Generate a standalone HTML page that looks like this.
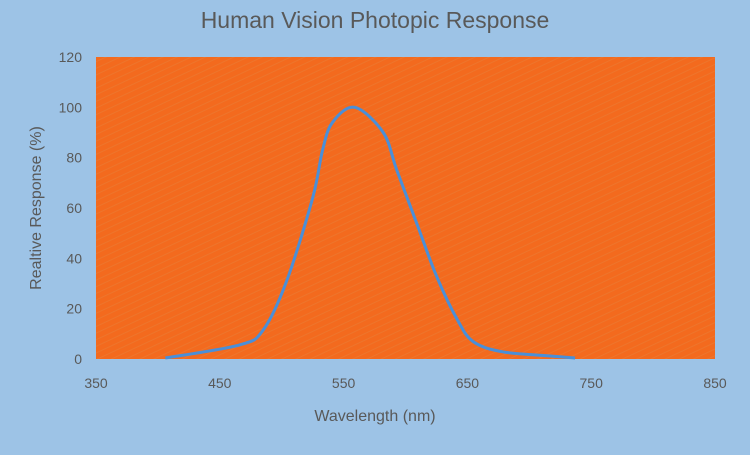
<!DOCTYPE html>
<html><head><meta charset="utf-8"><style>
body{margin:0;width:750px;height:450px;overflow:hidden;background:#9dc3e6;font-family:"Liberation Sans",sans-serif}
</style></head><body>
<svg width="750" height="450" xmlns="http://www.w3.org/2000/svg">
<defs><pattern id="dith" width="6" height="6" patternUnits="userSpaceOnUse" patternTransform="rotate(-25)"><rect width="6" height="6" fill="#f36a1e"/><rect width="6" height="1" fill="#e8803a" opacity="0.5"/></pattern></defs>
<rect width="750" height="450" fill="#9dc3e6"/>
<text x="375" y="28" text-anchor="middle" font-size="23" fill="#595959">Human Vision Photopic Response</text>
<rect x="96" y="57" width="619" height="302" fill="url(#dith)"/>
<g id="yt"></g>
<g id="xt"></g>
<text x="375" y="421" text-anchor="middle" font-size="16" fill="#595959">Wavelength (nm)</text>
<text transform="translate(41,208) rotate(-90)" text-anchor="middle" font-size="16" fill="#595959">Realtive Response (%)</text>
<path id="line" fill="none" stroke="#4a8fd8" stroke-width="3" stroke-linejoin="round"/>
</svg>
<script>
const wavelengths=[406,466,485,504,525,533,541,559,582,593,609,625,642,655,679,717,737];
const response=[0.4,5.6,11.5,31,64,83,94,100,90,75,54,33,15.5,6.8,2.8,1.2,0.4];
const xTicks=[350,450,550,650,750,850];
const yTicks=[0,20,40,60,80,100,120];
const X=v=>96+(v-350)*619/500, Y=v=>359-v*302/120;
const ns="http://www.w3.org/2000/svg";
const yt=document.getElementById('yt'), xt=document.getElementById('xt');
yTicks.forEach(t=>{const e=document.createElementNS(ns,'text');e.setAttribute('x',82);e.setAttribute('y',Y(t)+5);e.setAttribute('text-anchor','end');e.setAttribute('font-size','14');e.setAttribute('fill','#595959');e.textContent=t;


yt.appendChild(e);});
xTicks.forEach(t=>{const e=document.createElementNS(ns,'text');e.setAttribute('x',X(t));e.setAttribute('y',388);e.setAttribute('text-anchor','middle');e.setAttribute('font-size','14');e.setAttribute('fill','#595959');e.textContent=t;


xt.appendChild(e);});
const pts=wavelengths.map((w,i)=>[X(w),Y(response[i])]);
let d='M'+pts[0].join(',');
for(let i=0;i<pts.length-1;i++){const p0=pts[i-1]||pts[i],p1=pts[i],p2=pts[i+1],p3=pts[i+2]||p2;
d+=` C${p1[0]+(p2[0]-p0[0])/6},${p1[1]+(p2[1]-p0[1])/6} ${p2[0]-(p3[0]-p1[0])/6},${p2[1]-(p3[1]-p1[1])/6} ${p2[0]},${p2[1]}`;}
document.getElementById('line').setAttribute('d',d);
</script>
</body></html>
